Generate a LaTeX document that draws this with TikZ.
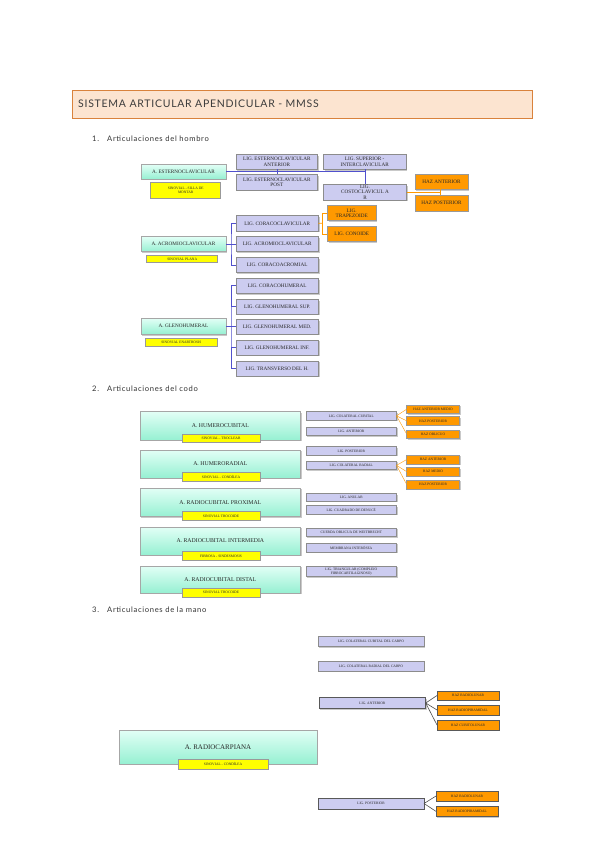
\documentclass[tikz,border=0pt]{standalone}
\usepackage{fontspec}
\setmainfont{Liberation Serif}
\newfontfamily\headfont[LetterSpace=7]{Lato}
\newfontfamily\secfont[LetterSpace=9]{Lato}
\usetikzlibrary{shadows}
\definecolor{tealtop}{RGB}{226,255,246}
\definecolor{tealbot}{RGB}{150,240,210}
\definecolor{lilac}{RGB}{204,204,240}
\definecolor{orng}{RGB}{255,153,0}
\definecolor{yel}{RGB}{255,255,0}
\definecolor{blueline}{RGB}{80,80,205}
\definecolor{peach}{RGB}{252,228,208}
\definecolor{peachedge}{RGB}{217,130,60}
\definecolor{headtxt}{RGB}{60,60,60}
\newcommand\bx[7]{\pgfmathsetmacro\bw{#5-#3}\pgfmathsetmacro\bh{#6-#4}%
  \node[#1, minimum width=\bw pt, minimum height=\bh pt, anchor=north west] (#2) at (#3,#4) {#7};}
\tikzset{
  base/.style={inner sep=0pt, outer sep=0pt, align=center, text=black!85},
  shad/.style={drop shadow={shadow xshift=1.2pt, shadow yshift=-1.2pt, opacity=0.35, fill=black!60}},
  tealbox/.style={base, shad, draw=black!35, line width=0.6pt, top color=tealtop, bottom color=tealbot},
  lilbox/.style={base, shad, draw=black!45, line width=0.6pt, fill=lilac},
  orbox/.style={base, shad, draw=black!40, line width=0.6pt, fill=orng},
  yelbox/.style={base, draw=black!40, line width=0.6pt, fill=yel},
  fA/.style={font=\fontsize{5.2}{5.6}\selectfont},
  fB/.style={font=\fontsize{3.6}{4}\selectfont},
  fC/.style={font=\fontsize{5.8}{6}\selectfont},
  bl/.style={draw=blueline, line width=0.9pt},
  ol/.style={draw=orng, line width=0.8pt},
  gl/.style={draw=black!70, line width=0.6pt},
  sec/.style={font=\secfont\fontsize{7.6}{8}\selectfont, text=black!80, anchor=west, inner sep=0pt},
}
\begin{document}
\begin{tikzpicture}[x=1pt,y=-1pt]
\useasboundingbox[fill=white] (0,0) rectangle (600,848);
% header
\node[draw=peachedge, line width=1.2pt, fill=peach, minimum width=460pt, minimum height=28pt, anchor=north west, inner sep=0pt] (hdr) at (72,90) {};
\node[font=\headfont\fontsize{10.5}{12}\selectfont, text=headtxt, anchor=west, inner sep=0pt] (hdrt) at (78,104) {SISTEMA ARTICULAR APENDICULAR - MMSS};
% section headings
\node[sec] (s1n) at (92,139) {1.};
\node[sec] (s1) at (107,139) {Articulaciones del hombro};
\node[sec] (s2n) at (92,389) {2.};
\node[sec] (s2) at (107,389) {Articulaciones del codo};
\node[sec] (s3n) at (92,610) {3.};
\node[sec] (s3) at (107,610) {Articulaciones de la mano};

% ===== Section 1 =====
\bx{tealbox,fA}{ec}{141}{164.3}{226}{179}{A. ESTERNOCLAVICULAR}
\bx{yelbox,fB}{ecy}{150.7}{182.3}{220.7}{198.3}{SINOVIAL - SILLA DE\\MONTAR}
\bx{lilbox,fA}{eca}{236}{154.3}{317.7}{169.3}{LIG. ESTERNOCLAVICULAR\\ANTERIOR}
\bx{lilbox,fA}{ecp}{236}{174.3}{317.7}{190}{LIG. ESTERNOCLAVICULAR\\POST}
\bx{lilbox,fA}{sic}{323.3}{154.3}{406}{169.3}{LIG. SUPERIOR -\\INTERCLAVICULAR}
\bx{lilbox,fA}{cc}{323.3}{184.3}{406.7}{200}{}
\node[fA, base, align=center] (cct) at (365,192) {LIG.\\COSTOCLAVICUL A\\R};
\bx{orbox,fA}{ha1}{415}{174.3}{468}{189.3}{HAZ ANTERIOR}
\bx{orbox,fA}{hp1}{415}{195}{468}{211}{HAZ POSTERIOR}
\coordinate (j1) at (277,171.8);
\coordinate (j2) at (365,171.8);
\draw[bl] (ec.east |- j1) -- (j2);
\draw[bl] (eca.south -| j1) -- (ecp.north -| j1);
\draw[bl] (sic.south -| j2) -- (cc.north -| j2);
\coordinate (oj1) at (440,192.3);
\draw[ol] (cc.east |- oj1) -- (oj1);
\draw[ol] (ha1.south -| oj1) -- (hp1.north -| oj1);

\bx{tealbox,fA}{ac}{141}{236.7}{226}{251.7}{A. ACROMIOCLAVICULAR}
\bx{yelbox,fB}{acy}{146.7}{255}{217.7}{262.7}{SINOVIAL PLANA}
\bx{lilbox,fA}{cclv}{236}{215.7}{318.3}{231}{LIG. CORACOCLAVICULAR}
\bx{lilbox,fA}{acl}{236}{236.7}{318.3}{251.7}{LIG. ACROMIOCLAVICULAR}
\bx{lilbox,fA}{cacr}{236}{257.7}{318.3}{272.7}{LIG. CORACOACROMIAL}
\bx{orbox,fA}{trap}{327.3}{205.7}{376}{220.7}{LIG.\\TRAPEZOIDE}
\bx{orbox,fA}{con}{327.3}{226.7}{376}{241.7}{LIG. CONOIDE}
\coordinate (bj) at (231,244.2);
\draw[bl] (ac.east) -- (acl.west);
\draw[bl] (cclv.west) -| (bj) |- (cacr.west);
\coordinate (oj2) at (322.7,223.3);
\draw[ol] (cclv.east) -- (oj2);
\draw[ol] (trap.west) -| (oj2) |- (con.west);

\bx{tealbox,fA}{gh}{141}{318.3}{226}{334.3}{A. GLENOHUMERAL}
\bx{yelbox,fB}{ghy}{145}{338.3}{217.7}{346}{SINOVIAL ENARTROSIS}
\bx{lilbox,fA}{g1}{236}{278.3}{318.3}{293.3}{LIG. CORACOHUMERAL}
\bx{lilbox,fA}{g2}{236}{299.3}{318.3}{314}{LIG. GLENOHUMERAL SUP.}
\bx{lilbox,fA}{g3}{236}{319.3}{318.3}{334}{LIG. GLENOHUMERAL MED.}
\bx{lilbox,fA}{g4}{236}{340}{318.3}{355}{LIG. GLENOHUMERAL INF.}
\bx{lilbox,fA}{g5}{236}{361}{318.3}{376}{LIG. TRANSVERSO DEL H.}
\coordinate (gj) at (231,326.5);
\draw[bl] (gh.east |- g3.west) -- (g3.west);
\draw[bl] (g1.west) -| (gj) |- (g5.west);
\draw[bl] (g2.west) -- (g2.west -| gj);
\draw[bl] (g4.west) -- (g4.west -| gj);

% ===== Section 2 =====
\bx{tealbox,fC}{hc}{140}{411.7}{300.7}{440}{A. HUMEROCUBITAL}
\bx{yelbox,fB}{hcy}{182}{434}{260}{442.7}{SINOVIAL - TROCLEAR}
\bx{tealbox,fC}{hr}{140}{450}{300.7}{478}{A. HUMERORADIAL}
\bx{yelbox,fB}{hry}{182}{472.7}{260}{481}{SINOVIAL - CONDÍLEA}
\bx{tealbox,fC}{rcp}{140}{488}{300.7}{516.7}{A. RADIOCUBITAL PROXIMAL}
\bx{yelbox,fB}{rcpy}{182}{511.7}{260}{520.7}{SINOVIAL TROCOIDE}
\bx{tealbox,fC}{rci}{140}{527}{300.7}{555}{A. RADIOCUBITAL INTERMEDIA}
\bx{yelbox,fB}{rciy}{182}{551.7}{260}{560}{FIBROSA - SINDESMOSIS}
\bx{tealbox,fC}{rcd}{140}{566}{300.7}{593}{A. RADIOCUBITAL DISTAL}
\bx{yelbox,fB}{rcdy}{182}{588}{260}{597}{SINOVIAL TROCOIDE}

\bx{lilbox,fB}{lcc}{306}{411.7}{396.5}{420}{LIG. COLATERAL CUBITAL}
\bx{lilbox,fB}{lan}{306}{427}{396.5}{435.7}{LIG. ANTERIOR}
\bx{lilbox,fB}{lpo}{306}{446.7}{396.5}{455}{LIG. POSTERIOR}
\bx{lilbox,fB}{lcr}{306}{461}{396.5}{469.7}{LIG. COLATERAL RADIAL}
\bx{lilbox,fB}{lanu}{306}{493.3}{396.5}{501}{LIG. ANULAR}
\bx{lilbox,fB}{lcua}{306}{505.7}{396.5}{514}{LIG. CUADRADO DE DENUCÉ}
\bx{lilbox,fB}{lcue}{306}{528}{396.5}{536.7}{CUERDA OBLICUA DE WEITBRECHT}
\bx{lilbox,fB}{lmem}{306}{543}{396.5}{552}{MEMBRANA INTERÓSEA}
\bx{lilbox,fB}{ltri}{306}{566}{396.5}{576.7}{LIG. TRIANGULAR (COMPLEJO\\FIBROCARTILAGINOSO)}

\bx{orbox,fB}{o1}{406.7}{405}{459.3}{413.3}{HAZ ANTERIOR MEDIO}
\bx{orbox,fB}{o2}{406.7}{416.7}{459.3}{425}{HAZ POSTERIOR}
\bx{orbox,fB}{o3}{406.7}{430}{459.3}{438.3}{HAZ OBLICUO}
\bx{orbox,fB}{o4}{406.7}{455}{459.3}{464}{HAZ ANTERIOR}
\bx{orbox,fB}{o5}{406.7}{467.3}{459.3}{476}{HAZ MEDIO}
\bx{orbox,fB}{o6}{406.7}{480}{459.3}{489}{HAZ POSTERIOR}
\foreach \t in {o1,o2,o3} \draw[ol, line width=0.4pt] (lcc.east) -- (\t.west);
\foreach \t in {o4,o5,o6} \draw[ol, line width=0.4pt] (lcr.east) -- (\t.west);

% ===== Section 3 =====
\bx{lilbox,fB}{m1}{318}{636.7}{424}{646.7}{LIG. COLATERAL CUBITAL DEL CARPO}
\bx{lilbox,fB}{m2}{318}{661}{424}{671}{LIG. COLATERAL RADIAL DEL CARPO}
\bx{lilbox,fB,draw=black!65,line width=0.8pt}{m3}{319}{697.7}{425.7}{708.3}{LIG. ANTERIOR}
\bx{lilbox,fB,draw=black!65,line width=0.8pt}{m4}{318}{798}{424}{809}{LIG. POSTERIOR}
\bx{orbox,fB,draw=black!65}{p1}{437}{691}{499}{700}{HAZ RADIOLUNAR}
\bx{orbox,fB,draw=black!65}{p2}{437}{705}{499}{715}{HAZ RADIOPIRAMIDAL}
\bx{orbox,fB,draw=black!65}{p3}{437}{720}{499}{730}{HAZ CUBITOLUNAR}
\bx{orbox,fB,draw=black!65}{p4}{436}{791}{498}{801}{HAZ RADIOLUNAR}
\bx{orbox,fB,draw=black!65}{p5}{436}{806}{498}{816.7}{HAZ RADIOPIRAMIDAL}
\foreach \t in {p1,p2,p3} \draw[gl] (m3.east) -- (\t.west);
\foreach \t in {p4,p5} \draw[gl] (m4.east) -- (\t.west);
\bx{tealbox,font=\fontsize{7}{8}\selectfont}{rc}{119}{730}{317}{764}{A. RADIOCARPIANA}
\bx{yelbox,fB}{rcy}{178}{759}{268}{769}{SINOVIAL - CONDÍLEA}
\end{tikzpicture}
\end{document}
